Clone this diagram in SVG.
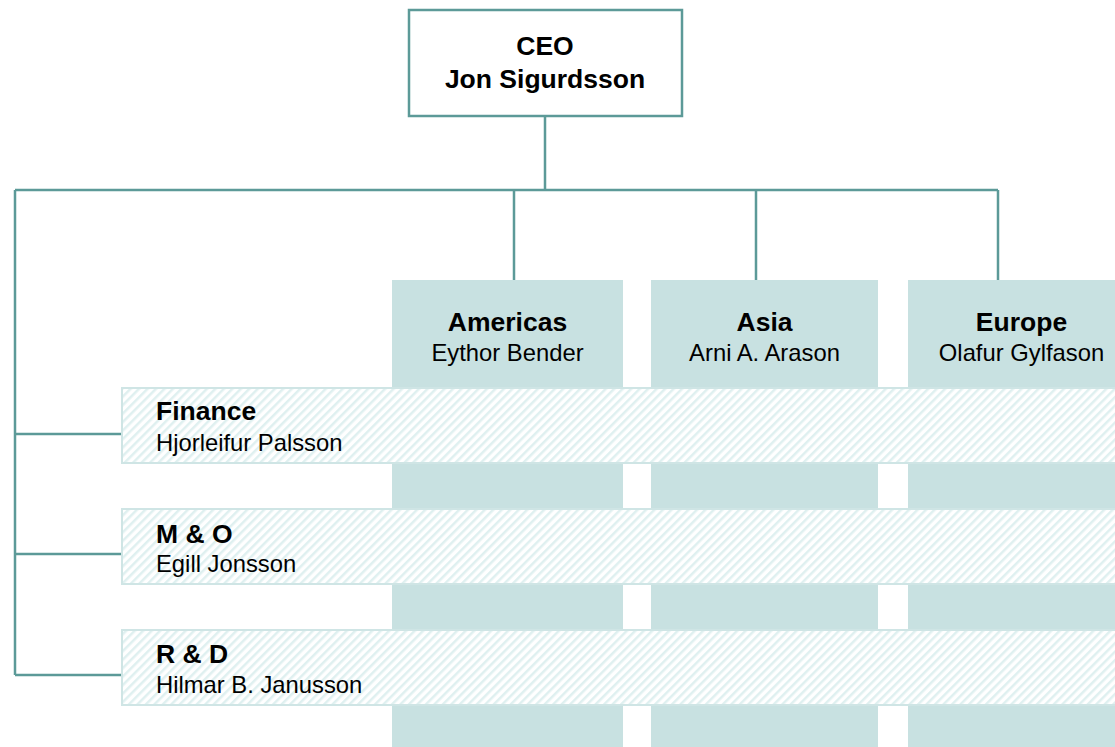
<svg xmlns="http://www.w3.org/2000/svg" width="1115" height="747" viewBox="0 0 1115 747">
<style>
.conn{fill:none;stroke:#5c9a98;stroke-width:2.5}
.ceo{fill:#ffffff;stroke:#5c9a98;stroke-width:2.5}
.col{fill:#c8e1e1}
.bar{fill:url(#hatch);stroke:#cfe5e5;stroke-width:2}
.b{font-family:"Liberation Sans",Arial,sans-serif;font-weight:bold;font-size:26.5px;fill:#000}
.r{font-family:"Liberation Sans",Arial,sans-serif;font-size:23.8px;fill:#000}
.c{text-anchor:middle}
</style>
<defs>
<pattern id="hatch" patternUnits="userSpaceOnUse" width="6" height="6" patternTransform="rotate(45)">
<rect width="6" height="6" fill="#ffffff"/>
<rect x="0" y="0" width="2.5" height="6" fill="#dff0f0"/>
</pattern>
</defs>
<rect width="1115" height="747" fill="#ffffff"/>
<g id="connectors">
<path class="conn" d="M545 116V190M15 190H998M514 190V280M756 190V280M998 190V280M15 190V675M15 434H122M15 554H122M15 675H122"/>
</g>
<g id="americas">
<rect class="col" x="392" y="280" width="231" height="467"/>
<text class="b c" x="507.5" y="331">Americas</text>
<text class="r c" x="507.5" y="361">Eythor Bender</text>
</g>
<g id="asia">
<rect class="col" x="651" y="280" width="227" height="467"/>
<text class="b c" x="764.5" y="331">Asia</text>
<text class="r c" x="764.5" y="361">Arni A. Arason</text>
</g>
<g id="europe">
<rect class="col" x="908" y="280" width="227" height="467"/>
<text class="b c" x="1021.5" y="331">Europe</text>
<text class="r c" x="1021.5" y="361">Olafur Gylfason</text>
</g>
<g id="ceo">
<rect class="ceo" x="409" y="10" width="273" height="106"/>
<text class="b c" x="545" y="55">CEO</text>
<text class="b c" x="545" y="88">Jon Sigurdsson</text>
</g>
<g id="finance">
<rect class="bar" x="122" y="388" width="1000" height="75"/>
<text class="b" x="156" y="420">Finance</text>
<text class="r" x="156" y="451">Hjorleifur Palsson</text>
</g>
<g id="mo">
<rect class="bar" x="122" y="509" width="1000" height="75"/>
<text class="b" x="156" y="543">M &amp; O</text>
<text class="r" x="156" y="572">Egill Jonsson</text>
</g>
<g id="rd">
<rect class="bar" x="122" y="630" width="1000" height="75"/>
<text class="b" x="156" y="663">R &amp; D</text>
<text class="r" x="156" y="693">Hilmar B. Janusson</text>
</g>
</svg>
